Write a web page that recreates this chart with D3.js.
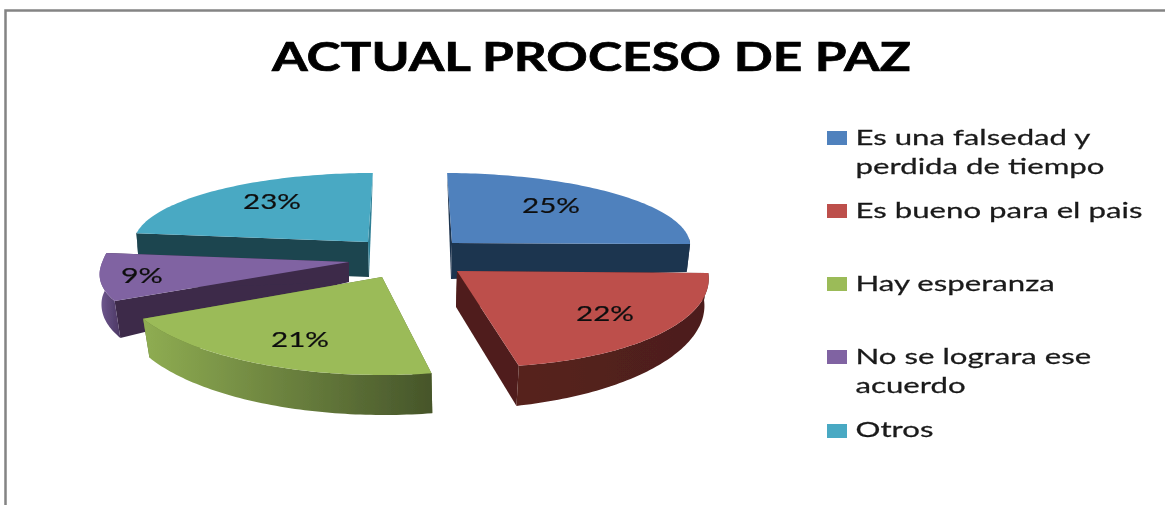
<!DOCTYPE html>
<html>
<head>
<meta charset="utf-8">
<script src="https://cdnjs.cloudflare.com/ajax/libs/d3/7.8.5/d3.min.js"></script>
<style>html,body{margin:0;padding:0;background:#fff;overflow:hidden}svg{display:block}</style>
</head>
<body>
<svg id="chart" width="1165" height="505"></svg>
<script>
const titleText = "ACTUAL PROCESO DE PAZ";
const categories = ["Es una falsedad y perdida de tiempo", "Es bueno para el pais", "Hay esperanza", "No se lograra ese acuerdo", "Otros"];
const legendLines = [["Es una falsedad y", "perdida de tiempo"], ["Es bueno para el pais"], ["Hay esperanza"], ["No se lograra ese", "acuerdo"], ["Otros"]];
const values = [25, 22, 21, 9, 23];
const topColors = ["#4f81bd", "#bd4f4c", "#9bbb59", "#8064a2", "#4aa9c3"];

// Exploded-slice projection: where each slice sits and how its discs are foreshortened.
const topDisc = [
  {cx:452, cy:243, rx:238, ryU:70,  ryD:70, shear:.07,  tilt:1},
  {cx:457, cy:271, rx:251, ryU:70,  ryD:96, shear:.156, tilt:2},
  {cx:382, cy:277, rx:264, ryU:70,  ryD:98, shear:0,    tilt:0},
  {cx:349, cy:262, rx:247, ryU:112, ryD:81, shear:-.28, tilt:-5},
  {cx:368, cy:242, rx:234, ryU:69,  ryD:69, shear:-.07, tilt:0}
];
const baseDisc = [
  {cx:451, cy:279, rx:236, ryU:70,  ryD:70,  shear:.037, tilt:-7},
  {cx:456, cy:307, rx:249, ryU:70,  ryD:102, shear:.14,  tilt:-7},
  {cx:382, cy:315, rx:258, ryU:70,  ryD:100, shear:.02,  tilt:0},
  {cx:349, cy:282, rx:245, ryU:72,  ryD:93,  shear:-.125,tilt:-18},
  {cx:369, cy:277, rx:232, ryU:69,  ryD:69,  shear:-.04, tilt:0}
];
const wallColors = [
  {start:"#1f344f", end:"#1f344f"},
  {start:"#4f1f1c", end:"#4f1f1c"},
  {start:"#5f7236", end:"#5f7236"},
  {start:"#3c2a4a", end:"#3c2a4a"},
  {start:"#1e444f", end:"#2f7f95"}
];
const rimStops = [
  ["#1f344f", "#1f344f"],
  ["#57221e", "#4c1e1b"],
  ["#8fad52", "#46552a"],
  ["#705990", "#4b3763"],
  ["#1e444f", "#1e444f"]
];
const labelOffsets = [[99,-38],[148,42],[-82,62],[-207,13],[-96,-41]];
const legendSwatchY = [131, 204, 277, 350, 424];
const legendBaselines = [[145,174],[218],[291],[364,393],[437]];

const svg = d3.select("#chart");
const defs = svg.append("defs");
defs.append("filter").attr("id","soft").attr("x","-2%").attr("y","-2%").attr("width","104%").attr("height","104%")
  .append("feGaussianBlur").attr("stdDeviation",0.45);

// Frame
const frame = d3.path();
frame.moveTo(5.5,505); frame.lineTo(5.5,10.5); frame.lineTo(1165,10.5);
svg.append("path").attr("d",frame.toString()).attr("fill","none").attr("stroke","#848484").attr("stroke-width",2.5);

const root = svg.append("g").attr("filter","url(#soft)");

function fitText(sel, x, y, target){
  const w = sel.node().getComputedTextLength();
  sel.attr("transform",`translate(${x},${y}) scale(${target/w},1)`);
}

// Title
const title = root.append("text").text(titleText)
  .attr("font-family","Lato").attr("font-weight",700).attr("font-size",41).attr("fill","#000")
  .attr("stroke","#000").attr("stroke-width",0.7);
fitText(title, 272, 71, 639);

// Pie
const arcs = d3.pie().sort(null).value(d=>d)(values);
const project = (f,a) => {
  const c = Math.cos(a), s = Math.sin(a);
  const dy = -(c>=0 ? f.ryU : f.ryD)*c + f.tilt*s;
  return [f.cx + f.rx*s + f.shear*dy, f.cy + dy];
};
const sweep = (f,a0,a1) => {
  const n = Math.max(2, Math.ceil(Math.abs(a1-a0)/0.02));
  return d3.range(n+1).map(i => project(f, a0+(a1-a0)*i/n));
};
const line = d3.line();
const closed = pts => line(pts)+"Z";
const frontMin = 85*Math.PI/180, frontMax = 278*Math.PI/180;
const drawOrder = [4,3,0,2,1];

drawOrder.forEach(i=>{
  const d = arcs[i], T = topDisc[i], B = baseDisc[i];
  const g = root.append("g").attr("class","slice");
  const a0 = d.startAngle, a1 = d.endAngle;
  const apexT = [T.cx,T.cy], apexB = [B.cx,B.cy];

  g.append("path").attr("fill",wallColors[i].start)
    .attr("d",closed([apexT, project(T,a0), project(B,a0), apexB]));
  g.append("path").attr("fill",wallColors[i].end)
    .attr("d",closed([apexT, project(T,a1), project(B,a1), apexB]));

  const r0 = Math.max(a0,frontMin), r1 = Math.min(a1,frontMax);
  if (r1 > r0){
    const topEdge = sweep(T,r0,r1), baseEdge = sweep(B,r0,r1);
    const xs = topEdge.concat(baseEdge).map(p=>p[0]);
    const stops = rimStops[i];
    const gr = defs.append("linearGradient").attr("id","rim"+i).attr("gradientUnits","userSpaceOnUse")
      .attr("x1",d3.min(xs)).attr("x2",d3.max(xs)).attr("y1",0).attr("y2",0);
    gr.append("stop").attr("offset",0).attr("stop-color",stops[0]);
    gr.append("stop").attr("offset",1).attr("stop-color",stops[1]);
    g.append("path").attr("fill",`url(#rim${i})`)
      .attr("d",closed(topEdge.concat(baseEdge.reverse())));
  }
  g.append("path").attr("fill",topColors[i])
    .attr("d",closed([apexT].concat(sweep(T,a0,a1))));
});

// Data labels
arcs.forEach((d,i)=>{
  const w = d.value<10 ? 42 : 58;
  const lb = root.append("text").text(d.value+"%")
    .attr("font-family","Lato").attr("font-size",21).attr("fill","#111")
    .attr("stroke","#111").attr("stroke-width",0.2);
  fitText(lb, topDisc[i].cx+labelOffsets[i][0]-w/2, topDisc[i].cy+labelOffsets[i][1]+7.5, w);
});

// Legend
const legendScale = (()=>{
  const probe = root.append("text").text(legendLines[1][0]).attr("font-family","Lato").attr("font-size",21);
  const s = 287/probe.node().getComputedTextLength();
  probe.remove();
  return s;
})();
categories.forEach((c,i)=>{
  root.append("rect").attr("x",827).attr("y",legendSwatchY[i]).attr("width",20).attr("height",14)
    .attr("fill",topColors[i]);
  legendLines[i].forEach((ln,j)=>{
    root.append("text").text(ln).attr("font-family","Lato").attr("font-size",21).attr("fill","#1a1a1a")
      .attr("stroke","#1a1a1a").attr("stroke-width",0.25)
      .attr("transform",`translate(855.5,${legendBaselines[i][j]}) scale(${legendScale},1)`);
  });
});
</script>
</body>
</html>
